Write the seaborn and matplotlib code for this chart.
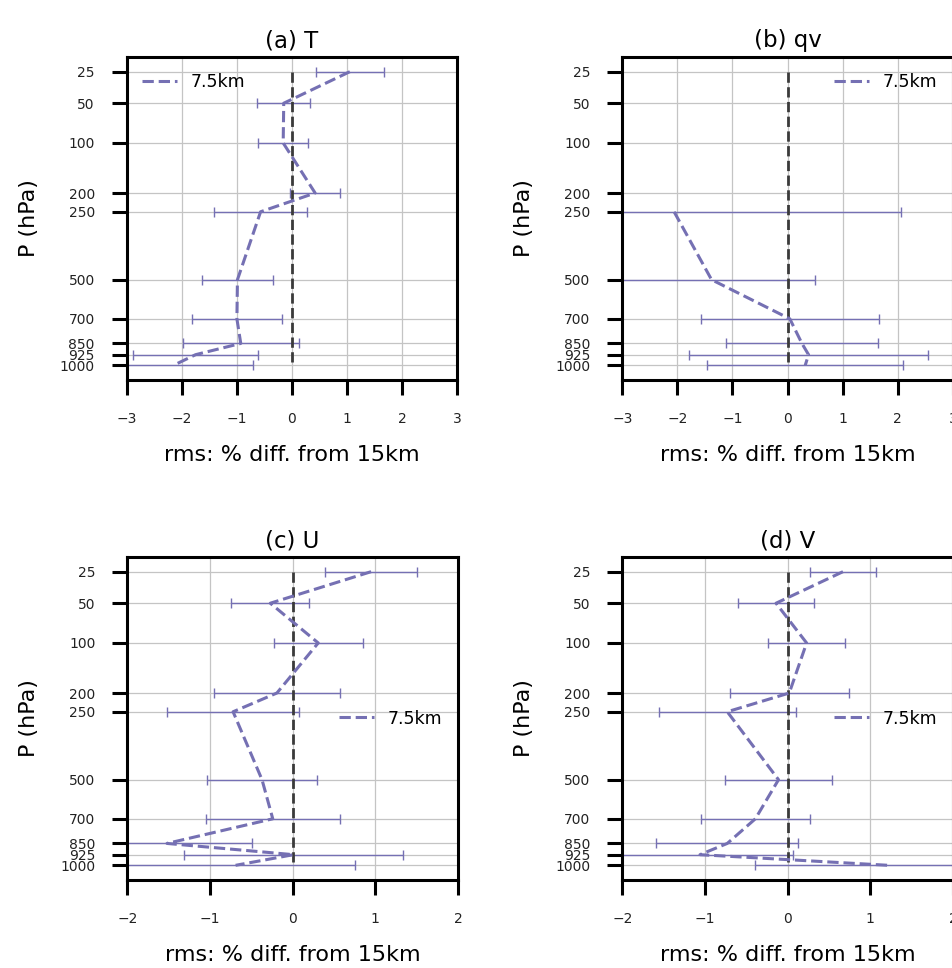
import numpy as np
import pandas as pd
import matplotlib.pyplot as plt
import seaborn as sns
from matplotlib.ticker import NullLocator

# pressure levels (hPa)
levels = [25, 50, 100, 200, 250, 500, 700, 850, 925, 1000]

# rms % difference of 7.5km run from 15km run, with error bar half-widths
t_diff = [1.05, -0.15, -0.16, 0.42, -0.57, -0.99, -1.00, -0.93, -1.75, -2.15]
t_err = [0.62, 0.48, 0.45, 0.45, 0.84, 0.65, 0.81, 1.05, 1.14, 1.44]

qv_diff = [np.nan, np.nan, np.nan, np.nan, -2.06, -1.38, 0.04, 0.26, 0.38, 0.32]
qv_err = [np.nan, np.nan, np.nan, np.nan, 4.12, 1.87, 1.62, 1.38, 2.17, 1.78]

u_diff = [0.95, -0.27, 0.31, -0.19, -0.72, -0.37, -0.24, -1.52, 0.01, -0.69]
u_err = [0.56, 0.47, 0.54, 0.76, 0.80, 0.67, 0.81, 1.03, 1.33, 1.45]

v_diff = [0.67, -0.14, 0.23, 0.02, -0.73, -0.11, -0.39, -0.73, -1.06, 1.22]
v_err = [0.40, 0.46, 0.47, 0.72, 0.83, 0.65, 0.66, 0.86, 1.13, 1.61]

panels = [
    ("(a) T", t_diff, t_err, 3, "upper left"),
    ("(b) qv", qv_diff, qv_err, 3, "upper right"),
    ("(c) U", u_diff, u_err, 2, "center right"),
    ("(d) V", v_diff, v_err, 2, "center right"),
]

purple = "#7570b3"

sns.set_style("white")
plt.rcParams["font.family"] = ["DejaVu Sans"]
plt.rcParams["text.color"] = "black"
plt.rcParams["axes.labelcolor"] = "black"

fig = plt.figure(figsize=(9.53, 9.68), dpi=100)

W, H = 953, 968
boxes = [(126.7, 57), (622.3, 57), (127.3, 557), (622.3, 557)]
aw, ah = 330.6, 323

for (title, diff, err, xmax, loc), (x0, y0) in zip(panels, boxes):
    ax = fig.add_axes([x0 / W, 1 - (y0 + ah) / H, aw / W, ah / H])
    df = pd.DataFrame({"P": levels, "diff": diff, "err": err}).dropna()

    ax.vlines(0, min(levels), max(levels), colors="#3a3a3a", linestyles="--", lw=2.0, zorder=3)
    ax.errorbar(df["diff"], df["P"], xerr=df["err"], fmt="none", ecolor=purple,
                elinewidth=1.0, capsize=3.5, capthick=1.0, zorder=2)
    sns.lineplot(data=df, x="diff", y="P", sort=False, orient="y", estimator=None,
                 color=purple, lw=2.2, linestyle="--", label="7.5km", ax=ax, zorder=4)

    ax.set_yscale("function", functions=(np.cbrt, lambda v: v ** 3))
    ax.set_yticks(levels)
    ax.set_yticklabels([str(p) for p in levels])
    ax.yaxis.set_minor_locator(NullLocator())
    ax.margins(y=0.05)
    ax.autoscale_view()
    ax.invert_yaxis()

    ax.set_xlim(-xmax, xmax)
    ax.set_xticks(range(-xmax, xmax + 1))

    ax.grid(True, color="#c4c4c4", lw=0.9)
    ax.set_axisbelow(True)
    for s in ax.spines.values():
        s.set_linewidth(2.2)
        s.set_color("black")
    ax.tick_params(bottom=True, left=True, direction="out", length=11, width=2.2,
                   pad=12, labelsize=10, color="black", labelcolor="#222222")

    ax.set_title(title, fontsize=16.5, pad=7)
    ax.set_xlabel("rms: % diff. from 15km", fontsize=16, labelpad=14)
    ax.set_ylabel("P (hPa)", fontsize=16, labelpad=15)
    ax.legend(loc=loc, frameon=False, fontsize=12.5)

fig.savefig("out.png", dpi=100)
